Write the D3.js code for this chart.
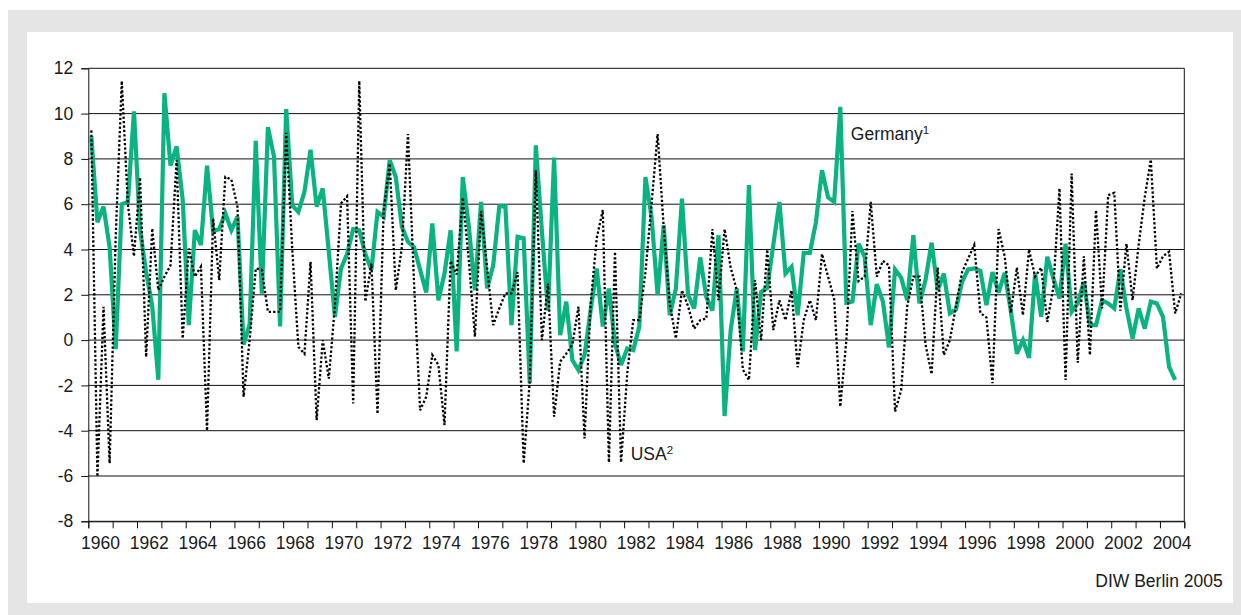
<!DOCTYPE html>
<html>
<head>
<meta charset="utf-8">
<script src="https://cdn.jsdelivr.net/npm/d3@7"></script>
<style>
  html, body { margin: 0; padding: 0; background: #ffffff; }
  svg { display: block; font-family: "Liberation Sans", Arial, Helvetica, sans-serif; }
  text { fill: #1a1a1a; }
</style>
</head>
<body>
<svg id="chart" width="1241" height="615"></svg>
<script>
// ---- data (quarterly, annualised growth rates, %) ----
const startYear = 1960;
const endYear = 2004;
const quarters = [];
for (let y = startYear; y <= endYear; y++) for (let q = 1; q <= 4; q++) quarters.push(y + "Q" + q);

const germany = [
  9.0, 5.2, 5.9, 4.1, -0.4, 6.0, 6.1, 10.1, 4.85, 3.0,
  1.5, -1.75, 10.9, 7.7, 8.55, 6.2, 0.66, 4.85, 4.2, 7.7,
  4.8, 4.9, 5.6, 4.85, 5.45, -0.2, 0.7, 8.8, 2.05, 9.4,
  8.1, 0.6, 10.2, 5.95, 5.66, 6.55, 8.4, 5.9, 6.7, 3.9,
  1.03, 3.16, 3.8, 4.9, 4.85, 3.8, 3.1, 5.66, 5.45, 7.94,
  7.2, 5.0, 4.34, 4.1, 3.1, 2.1, 5.15, 1.76, 2.94, 4.85,
  -0.5, 7.2, 5.0, 2.2, 6.1, 2.28, 3.3, 5.9, 5.9, 0.66,
  4.56, 4.5, -1.9, 8.6, 4.8, 1.3, 8.06, 0.22, 1.7, -0.88,
  -1.32, -0.66, 1.32, 3.16, 0.6, 2.28, -0.15, -1.1, -0.37, -0.44,
  0.6, 7.2, 5.45, 1.99, 5.07, 1.1, 2.28, 6.25, 1.99, 1.4,
  3.65, 1.9, 1.3, 4.63, -3.35, 0.44, 2.28, -0.5, 6.84, -0.44,
  2.13, 2.3, 4.2, 6.1, 2.94, 3.24, 1.1, 3.85, 3.85, 5.2,
  7.5, 6.3, 6.1, 10.3, 1.65, 1.7, 4.26, 3.68, 0.66, 2.47,
  1.7, -0.32, 3.12, 2.76, 1.76, 4.63, 1.62, 2.65, 4.3, 2.2,
  2.94, 1.18, 1.35, 2.57, 3.12, 3.16, 3.06, 1.54, 3.0, 2.1,
  2.97, 1.3, -0.6, 0.0, -0.78, 2.94, 1.03, 3.68, 2.72, 1.84,
  4.26, 1.25, 1.62, 2.57, 0.66, 0.66, 1.76, 1.62, 1.4, 3.12,
  1.4, 0.07, 1.4, 0.51, 1.7, 1.62, 1.03, -1.18, -1.76
];

const usa = [
  9.26, -6.03, 1.47, -5.44, 4.56, 11.44, 6.0, 3.7, 7.18, -0.74,
  4.93, 2.2, 2.8, 3.3, 7.94, 0.07, 4.04, 2.8, 3.24, -4.0,
  5.37, 2.65, 7.2, 7.09, 5.88, -2.5, 0.0, 3.16, 3.1, 1.25,
  1.25, 1.25, 9.15, 4.0, -0.3, -0.6, 3.46, -3.53, 0.0, -1.7,
  1.5, 6.03, 6.35, -2.8, 11.44, 1.7, 3.38, -3.26, 5.66, 7.8,
  2.2, 4.1, 9.1, 2.5, -3.1, -2.5, -0.66, -1.1, -3.75, 3.5,
  2.9, 6.3, 3.5, 0.15, 5.7, 3.2, 0.66, 1.4, 2.06, 2.06,
  3.0, -5.44, -1.8, 7.5, 0.0, 2.5, -3.38, -0.95, -0.6, -0.2,
  1.47, -4.34, 1.6, 4.5, 5.74, -5.4, 3.9, -5.4, -1.5, 0.88,
  0.88, 3.0, 6.0, 9.1, 5.0, 1.6, 0.07, 2.2, 1.5, 0.5,
  0.88, 0.95, 4.9, 1.76, 4.9, 3.2, 2.2, -1.3, -1.76, 2.65,
  0.0, 4.0, 0.44, 1.76, 0.88, 2.2, -1.2, 0.88, 1.76, 0.88,
  3.8, 2.8, 1.8, -2.94, 0.0, 5.7, 2.6, 2.8, 6.1, 2.8,
  3.5, 3.3, -3.16, -2.2, 1.5, 2.8, 2.8, -0.2, -1.5, 3.2,
  -0.66, 0.0, 1.5, 3.0, 3.6, 4.2, 1.2, 1.0, -1.9, 4.9,
  3.7, 1.2, 3.2, 1.1, 4.0, 2.8, 3.2, 0.8, 2.35, 6.7,
  -1.76, 7.35, -1.0, 3.7, -0.66, 5.74, 1.4, 6.4, 6.5, 1.3,
  4.26, 1.76, 4.2, 6.3, 7.97, 3.16, 3.7, 3.9, 1.18, 2.06
];

const yTicks = [-8, -6, -4, -2, 0, 2, 4, 6, 8, 10, 12];
const yearTicks = d3.range(startYear, endYear + 2);          // tick marks at every year boundary
const yearLabels = d3.range(startYear, endYear + 1, 2);       // labels every second year
const seriesNames = ["Germany", "USA"];
const footnoteMarks = ["1", "2"];
const source = "DIW Berlin 2005";

// ---- layout ----
const svg = d3.select("#chart");
const W = 1241, H = 615;
const plot = { left: 88.3, right: 1184.3, top: 68.3, bottom: 521.3 };

// frame
svg.append("rect").attr("x", 8).attr("y", 10).attr("width", W - 8).attr("height", H - 10).attr("fill", "#e5e5e5");
svg.append("rect").attr("x", 27).attr("y", 32).attr("width", 1233 - 27).attr("height", 603 - 32).attr("fill", "#ffffff");

// scales
const x = d3.scaleBand().domain(quarters).range([plot.left, plot.right]).paddingInner(0).paddingOuter(0);
const xYear = d3.scaleLinear().domain([startYear, endYear + 1]).range([plot.left, plot.right]);
const y = d3.scaleLinear().domain([-8, 12]).range([plot.bottom, plot.top]);
const cx = (i) => x(quarters[i]) + x.bandwidth() / 2;

// gridlines
svg.append("g").selectAll("line").data(yTicks).join("line")
  .attr("x1", plot.left).attr("x2", plot.right)
  .attr("y1", d => y(d)).attr("y2", d => y(d))
  .attr("stroke", "#111").attr("stroke-width", 1);

// right border
svg.append("line").attr("x1", plot.right).attr("x2", plot.right)
  .attr("y1", plot.top).attr("y2", plot.bottom).attr("stroke", "#111").attr("stroke-width", 1);

// y axis
const yAxis = svg.append("g").attr("transform", `translate(${plot.left},0)`)
  .call(d3.axisLeft(y).tickValues(yTicks).tickSize(7).tickPadding(8).tickFormat(d => String(d)));
yAxis.select(".domain").attr("stroke", "#111");
yAxis.selectAll(".tick line").attr("stroke", "#111");
yAxis.selectAll("text").attr("font-size", "17.5px").attr("font-family", "Liberation Sans, Arial, sans-serif").attr("fill", "#1a1a1a");

// x axis (year boundary ticks)
const xAxis = svg.append("g").attr("transform", `translate(0,${plot.bottom})`)
  .call(d3.axisBottom(xYear).tickValues(yearTicks).tickSize(7).tickFormat(""));
xAxis.select(".domain").attr("stroke", "#111");
xAxis.selectAll(".tick line").attr("stroke", "#111");

svg.append("g").selectAll("text").data(yearLabels).join("text")
  .attr("x", d => xYear(d + 0.5)).attr("y", plot.bottom + 28)
  .attr("text-anchor", "middle").attr("font-size", "17.5px").text(d => d);

// lines
const lineGen = d3.line().x((d, i) => cx(i)).y(d => y(d)).curve(d3.curveLinear);

svg.append("path").datum(germany)
  .attr("d", lineGen).attr("fill", "none")
  .attr("stroke", "#0bb381").attr("stroke-width", 4.2)
  .attr("stroke-linejoin", "miter").attr("stroke-miterlimit", 3);

svg.append("path").datum(usa)
  .attr("d", lineGen).attr("fill", "none")
  .attr("stroke", "#000").attr("stroke-width", 2.3)
  .attr("stroke-dasharray", "2.3,2.1");

// series labels
const lab1 = svg.append("text").attr("x", xYear(1991.31)).attr("y", y(8.83)).attr("font-size", "17.5px");
lab1.append("tspan").text(seriesNames[0]);
lab1.append("tspan").attr("font-size", "11.5px").attr("dy", -6).text(footnoteMarks[0]);

const lab2 = svg.append("text").attr("x", xYear(1982.27)).attr("y", y(-5.3)).attr("font-size", "17.5px");
lab2.append("tspan").text(seriesNames[1]);
lab2.append("tspan").attr("font-size", "11.5px").attr("dy", -6).text(footnoteMarks[1]);

// source
svg.append("text").attr("x", 1222.7).attr("y", 587).attr("text-anchor", "end")
  .attr("font-size", "17.5px").text(source);
</script>
</body>
</html>
